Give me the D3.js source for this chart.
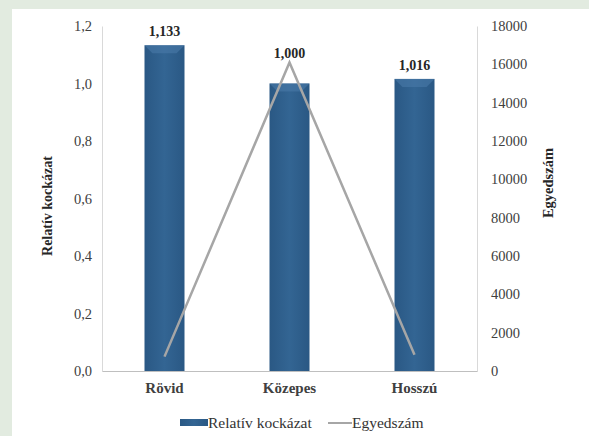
<!DOCTYPE html>
<html>
<head>
<meta charset="utf-8">
<script src="https://cdn.jsdelivr.net/npm/d3@7"></script>
<style>
  html, body { margin: 0; padding: 0; background: #e2ebe0; }
  svg { display: block; }
  text { font-family: "Liberation Serif", "DejaVu Serif", serif; }
</style>
</head>
<body>
<div id="chart"></div>
<script>
// Categories and series
const categories = ["Rövid", "Közepes", "Hosszú"];
const relativeRisk = [1.133, 1.000, 1.016];
const riskLabels = ["1,133", "1,000", "1,016"];
const counts = [750, 16100, 850];
const leftTicks = [0, 0.2, 0.4, 0.6, 0.8, 1.0, 1.2];
const rightTicks = [0, 2000, 4000, 6000, 8000, 10000, 12000, 14000, 16000, 18000];

const W = 589, H = 436;
const svg = d3.select("#chart").append("svg").attr("width", W).attr("height", H);

// white panel
svg.append("rect").attr("x", 12).attr("y", 9).attr("width", W - 12).attr("height", H - 9).attr("fill", "#ffffff");

const plot = { left: 102, right: 477, top: 26, bottom: 371 };

const x = d3.scaleBand().domain(categories).range([plot.left, plot.right]).paddingInner(0.68).paddingOuter(0.34);
const yL = d3.scaleLinear().domain([0, 1.2]).range([plot.bottom, plot.top]);
const yR = d3.scaleLinear().domain([0, 18000]).range([plot.bottom, plot.top]);

// bar gradient
const defs = svg.append("defs");
const grad = defs.append("linearGradient").attr("id", "barGrad").attr("x1", 0).attr("x2", 1).attr("y1", 0).attr("y2", 0);
grad.append("stop").attr("offset", "0%").attr("stop-color", "#2a5884");
grad.append("stop").attr("offset", "50%").attr("stop-color", "#336593");
grad.append("stop").attr("offset", "100%").attr("stop-color", "#2a5884");

// axes
const axisL = d3.axisLeft(yL).tickValues(leftTicks).tickSize(0).tickPadding(10)
  .tickFormat(d => d3.format(".1f")(d).replace(".", ","));
const gL = svg.append("g").attr("transform", `translate(${plot.left},0)`).call(axisL);
gL.select(".domain").attr("stroke", "#d9d9d9");
gL.selectAll("text").attr("font-size", 14.5).attr("fill", "#404040");

const axisR = d3.axisRight(yR).tickValues(rightTicks).tickSize(0).tickPadding(14).tickFormat(d3.format("d"));
const gR = svg.append("g").attr("transform", `translate(${plot.right},0)`).call(axisR);
gR.select(".domain").attr("stroke", "#d9d9d9");
gR.selectAll("text").attr("font-size", 14.5).attr("fill", "#404040");

const axisB = d3.axisBottom(x).tickSize(0).tickPadding(11);
const gB = svg.append("g").attr("transform", `translate(0,${plot.bottom})`).call(axisB);
gB.select(".domain").attr("stroke", "#bfbfbf");
gB.selectAll("text").attr("font-size", 15).attr("font-weight", "bold").attr("fill", "#404040");

// bars
svg.append("g").selectAll("rect").data(relativeRisk).join("rect")
  .attr("x", (d, i) => x(categories[i]))
  .attr("y", d => yL(d))
  .attr("width", x.bandwidth())
  .attr("height", d => plot.bottom - yL(d))
  .attr("fill", "url(#barGrad)");

// bevel highlight on bar tops
svg.append("g").selectAll("path").data(relativeRisk).join("path")
  .attr("d", (d, i) => {
    const x0 = x(categories[i]), w = x.bandwidth(), y0 = yL(d);
    return `M${x0},${y0}L${x0 + w},${y0}L${x0 + w - 8},${y0 + 8}L${x0 + 8},${y0 + 8}Z`;
  })
  .attr("fill", "#4a7aa8").attr("opacity", 0.6);

// count line
const line = d3.line().x((d, i) => x(categories[i]) + x.bandwidth() / 2).y(d => yR(d));
svg.append("path").datum(counts).attr("d", line)
  .attr("fill", "none").attr("stroke", "#a6a6a6").attr("stroke-width", 2.5);

// value labels, lifted above the line where it rises over the bar
svg.append("g").selectAll("text").data(relativeRisk).join("text")
  .attr("x", (d, i) => x(categories[i]) + x.bandwidth() / 2)
  .attr("y", (d, i) => Math.min(yL(d) - 9, yR(counts[i]) - 4))
  .attr("text-anchor", "middle")
  .attr("font-size", 14).attr("font-weight", "bold").attr("fill", "#262626")
  .text((d, i) => riskLabels[i]);

// axis titles
svg.append("text").attr("transform", `translate(52,206) rotate(-90)`)
  .attr("text-anchor", "middle").attr("font-size", 14).attr("font-weight", "bold").attr("fill", "#262626")
  .text("Relatív kockázat");
svg.append("text").attr("transform", `translate(553,183) rotate(-90)`)
  .attr("text-anchor", "middle").attr("font-size", 14.5).attr("font-weight", "bold").attr("fill", "#262626")
  .text("Egyedszám");

// legend
const lg = svg.append("g").attr("transform", "translate(180,423)");
lg.append("rect").attr("x", 0).attr("y", -4).attr("width", 28).attr("height", 7).attr("fill", "url(#barGrad)");
lg.append("text").attr("x", 28).attr("y", 5).attr("font-size", 15.5).attr("fill", "#333").text("Relatív kockázat");
lg.append("line").attr("x1", 148).attr("x2", 172).attr("y1", 0).attr("y2", 0).attr("stroke", "#a6a6a6").attr("stroke-width", 2);
lg.append("text").attr("x", 172).attr("y", 5).attr("font-size", 15.5).attr("fill", "#333").text("Egyedszám");
</script>
</body>
</html>
